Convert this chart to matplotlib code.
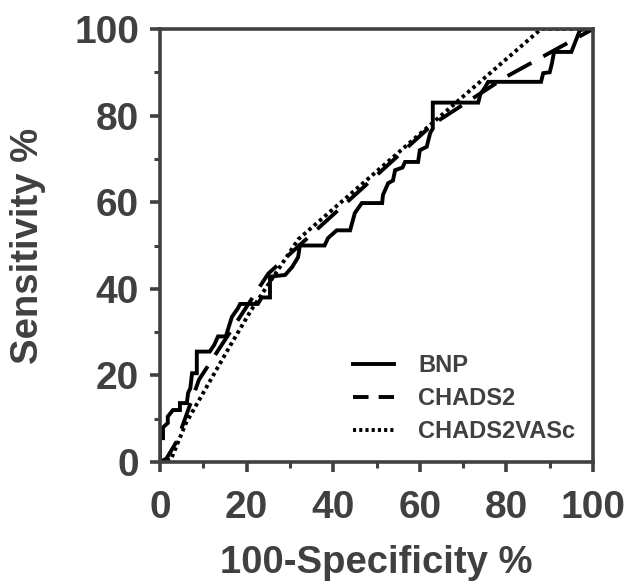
import matplotlib
matplotlib.use("Agg")
import matplotlib.pyplot as plt
from matplotlib.ticker import MultipleLocator

# BNP ROC curve (100-Specificity %, Sensitivity %)
bnp_x = [0, 0, 0.7, 0.7, 1.8, 1.8, 3, 4.6, 4.6, 6.2, 6.5, 7, 7.4, 8.5, 8.5, 11.5, 12.5,
         13.4, 15.2, 16.6, 18, 18.5, 22.6, 23.5, 25.4, 25.4, 28.9, 30.5, 31.9, 32.3, 38,
         38.8, 40.8, 43.9, 45, 46.6, 51.3, 51.5, 52.7, 53.8, 54.3, 56, 56.6, 59.6, 60,
         61.6, 62.4, 63, 63, 73.5, 74, 75, 75.8, 88, 88.5, 90, 90.5, 91, 95, 97, 100]
bnp_y = [0, 5.5, 5.5, 8, 9, 10.5, 12, 12, 13.6, 13.6, 16, 17, 20.5, 20.5, 25.5, 25.5, 27,
         29, 29, 33.5, 35.5, 36.5, 36.5, 38, 38, 42.8, 43.2, 45, 47.3, 50, 50,
         51.7, 53.5, 53.5, 57.5, 59.8, 59.8, 61.7, 64.4, 65, 67.4, 68, 69.3, 69.3, 72,
         72.8, 76, 77, 83, 83, 85, 86.4, 87.8, 87.8, 89.8, 90, 92, 94.7, 94.7, 99.8, 100]

# CHADS2 ROC curve
chads2_x = [0, 1.5, 4, 9, 25, 63, 80, 100]
chads2_y = [0, 0.8, 5, 19, 43.5, 78, 89, 100]

# CHADS2VASc ROC curve
vasc_x = [0, 2.5, 6, 16, 21, 32, 88, 100]
vasc_y = [0, 0.5, 9, 26.5, 35, 51.5, 100, 100]

series_labels = ["BNP", "CHADS2", "CHADS2VASc"]
ticks = [0, 20, 40, 60, 80, 100]

plt.rcParams['font.family'] = ['Liberation Sans', 'DejaVu Sans']
plt.rcParams['font.weight'] = 'bold'

gray = '#404040'
fig = plt.figure(figsize=(6.27, 5.84), dpi=100)
ax = fig.add_axes([160/627, 1-462/584, 433/627, 433/584])

lw = 2.8
ax.plot(bnp_x, bnp_y, color='black', lw=lw, ls='-', label=series_labels[0],
        solid_joinstyle='miter')
ax.plot(chads2_x, chads2_y, color='black', lw=lw, ls=(0, (7, 3.5)), label=series_labels[1],
        dash_capstyle='butt')
ax.plot(vasc_x, vasc_y, color='black', lw=lw, ls=(0, (0.9, 0.9)), label=series_labels[2])

ax.set_xlim(0, 100)
ax.set_ylim(0, 100)
ax.set_xticks(ticks)
ax.set_yticks(ticks)
ax.xaxis.set_minor_locator(MultipleLocator(10))
ax.yaxis.set_minor_locator(MultipleLocator(10))

for s in ax.spines.values():
    s.set_linewidth(2.6)
    s.set_color(gray)

ax.tick_params(which='major', length=7, width=2.6, color=gray, labelcolor=gray,
               labelsize=28)
ax.tick_params(which='minor', length=4, width=2.2, color=gray)
ax.tick_params(axis='x', which='major', pad=13)
ax.tick_params(axis='y', which='major', pad=8)
for lab in ax.get_xticklabels() + ax.get_yticklabels():
    lab.set_fontweight('bold')

ax.set_xlabel("100-Specificity %", fontsize=27.5, fontweight='bold', color=gray, labelpad=14)
ax.set_ylabel("Sensitivity %", fontsize=27.5, fontweight='bold', color=gray, labelpad=20)

leg = ax.legend(loc='lower right', frameon=False, handlelength=1.75, handletextpad=1.0,
                labelspacing=0.42, prop={'weight': 'bold', 'size': 17},
                bbox_to_anchor=(0.997, 0.005), borderaxespad=0.3)
for t in leg.get_texts():
    t.set_color(gray)
leg_lines = leg.get_lines()
leg_lines[1].set_linestyle((0, (4, 2.6)))
leg_lines[2].set_linestyle((0, (0.8, 0.8)))

fig.savefig("out.png", dpi=100)
